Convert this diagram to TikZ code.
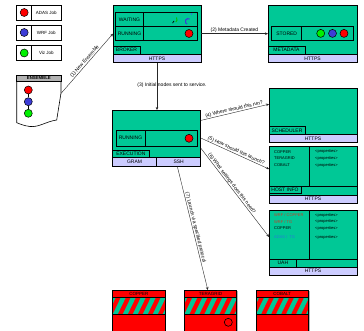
\documentclass[tikz,border=0pt]{standalone}
\usepackage{fontspec}
\setmainfont{Liberation Sans}
\usetikzlibrary{arrows.meta,calc}
\definecolor{gr}{RGB}{0,200,150}
\definecolor{lav}{RGB}{204,204,255}
\definecolor{bl}{RGB}{60,60,215}
\definecolor{rd}{RGB}{255,0,0}
\definecolor{lg}{RGB}{0,240,0}
\definecolor{wrf}{RGB}{200,60,40}
\definecolor{adas}{RGB}{40,120,220}
\newcommand\fa{\fontsize{5}{6}\selectfont}
\newcommand\fb{\fontsize{4}{5}\selectfont}
\newcommand\fc{\fontsize{4.5}{5.5}\selectfont}
\newcommand\mybox[7]{\node[#2, minimum width={(#5)-(#3)}, minimum height={(#6)-(#4)}, anchor=north west] (#1) at (#3,#4) {#7};}
\newcommand\stripebox[3]{%
  \fill[gray!60] ({#2+52.3},291) rectangle ({#2+53.6},331);
  \mybox{#1}{hdr}{#2}{290}{#2+52.3}{297.7}{\fc #3}
  \begin{scope}
    \clip (#2,297.7) rectangle ({#2+52.3},314.3);
    \fill[rd] (#2,297.7) rectangle ({#2+52.3},314.3);
    \foreach \i in {-2,...,6}{
      \fill[gr] ({#2+\i*10},314.3) -- ({#2+\i*10+5},314.3) -- ({#2+\i*10+13},297.7) -- ({#2+\i*10+8},297.7) -- cycle;}
  \end{scope}
  \draw[line width=0.6pt] (#2,297.7) rectangle ({#2+52.3},314.3);
  \draw[line width=0.6pt, fill=rd] (#2,314.3) rectangle ({#2+52.3},331);
}
\tikzset{
  box/.style={draw=black, line width=0.6pt, fill=gr, inner sep=0pt, outer sep=0pt},
  cell/.style={draw=black, line width=0.6pt, fill=gr, inner sep=0pt, outer sep=0pt, font=\fa},
  bar/.style={draw=black, line width=0.6pt, fill=lav, inner sep=0pt, outer sep=0pt, font=\fa},
  hdr/.style={draw=black, line width=0.6pt, fill=rd, inner sep=0pt, outer sep=0pt},
  leg/.style={draw=black, line width=0.6pt, fill=white, inner sep=0pt, outer sep=0pt, font=\fc},
  dot/.style={circle, draw=black, line width=0.5pt, minimum size=8pt, inner sep=0pt},
  conn/.style={draw=black!85, line width=0.4pt, -{Stealth[length=3pt,width=2.6pt]}},
  elab/.style={font=\fa, inner sep=0.5pt},
  txt/.style={inner sep=0pt, anchor=west, font=\fb},
}
\begin{document}
\begin{tikzpicture}[x=1pt,y=-1pt]
\useasboundingbox (0,0) rectangle (364,331);
% ---------- legend ----------
\fill[gray!60] (17.7,6) rectangle (62,21);
\fill[gray!60] (17.7,26) rectangle (62,41);
\fill[gray!60] (17.7,46.5) rectangle (62,61.5);
\mybox{l1}{leg}{16.7}{5}{31.7}{20}{}
\mybox{l1t}{leg}{31.7}{5}{61}{20}{ADAS Job}
\mybox{l2}{leg}{16.7}{25}{31.7}{40}{}
\mybox{l2t}{leg}{31.7}{25}{61}{40}{WRF Job}
\mybox{l3}{leg}{16.7}{45.5}{31.7}{60.5}{}
\mybox{l3t}{leg}{31.7}{45.5}{61}{60.5}{Viz Job}
\node[dot, fill=rd] (l1c) at (l1.center) {};
\node[dot, fill=bl] (l2c) at (l2.center) {};
\node[dot, fill=lg] (l3c) at (l3.center) {};
% ---------- ensemble ----------
\draw[line width=0.6pt, fill=white] (16.7,81.7) -- (61,81.7) -- (61,93) -- (56.7,120)
  .. controls (46,121.5) and (39,127.5) .. (30,126.5)
  .. controls (24,125.8) and (20,124) .. (16.7,122.7) -- cycle;
\mybox{ens}{leg, fill=gray!60}{16.7}{75}{61}{81.7}{\fontsize{4.3}{5}\selectfont\bfseries ENSEMBLE}
\node[inner sep=0pt, minimum width=44.3pt, minimum height=12pt, anchor=north east] (ensout) at (61,81.7) {};
\node[dot, fill=rd] (e1) at (28.3,90) {};
\node[dot, fill=bl] (e2) at (28.3,101.7) {};
\node[dot, fill=lg] (e3) at (28.3,113.3) {};
\draw[line width=0.5pt] (e1) -- (e2) (e2) -- (e3);
% ---------- broker ----------
\mybox{broker}{box}{113}{5}{201}{54.5}{}
\mybox{bwl}{cell}{115.7}{12.7}{143.3}{26.7}{WAITING}
\mybox{bwr}{cell}{143.3}{12.7}{197.3}{26.7}{}
\mybox{brl}{cell}{115.7}{26.7}{143.3}{40.7}{RUNNING}
\mybox{brr}{cell}{143.3}{26.7}{197.3}{40.7}{}
\mybox{blab}{cell}{113}{46}{140}{54.5}{BROKER}
\mybox{bhttps}{bar}{113}{54.5}{201}{62.7}{HTTPS}
\node[dot, fill=rd] (brc) at (189,33.5) {};
\draw[line width=0.9pt, lg!80!black] (176.5,17.5) arc[start angle=-40, end angle=60, radius=3];
\draw[line width=0.7pt, black] (174,21) arc[start angle=240, end angle=190, radius=3];
\draw[line width=1.1pt, bl] (189.5,19) arc[start angle=-60, end angle=-250, radius=2.8];
\draw[line width=0.6pt, adas] (191,15) arc[start angle=20, end angle=-20, radius=3];
% ---------- metadata ----------
\mybox{meta}{box}{268}{5}{357}{54.5}{}
\mybox{msl}{cell}{271.7}{26}{301.7}{40.7}{STORED}
\mybox{msr}{cell}{301.7}{26}{353}{40.7}{}
\mybox{mlab}{cell}{268}{46}{305}{54.5}{METADATA}
\mybox{mhttps}{bar}{268}{54.5}{357}{62.5}{HTTPS}
\node[dot, fill=lg] (m1) at (320.7,33.4) {};
\node[dot, fill=bl] (m2) at (332.5,33.4) {};
\node[dot, fill=rd] (m3) at (344,33.4) {};
% ---------- execution ----------
\mybox{exec}{box}{112.5}{110}{200.7}{157.5}{}
\mybox{erl}{cell}{116}{130}{145}{146}{RUNNING}
\mybox{err}{cell}{145}{130}{197.3}{146}{}
\mybox{elab}{cell}{112.5}{150}{149.3}{157.5}{EXECUTION}
\mybox{gram}{bar}{112.5}{157.5}{156.7}{166.7}{GRAM}
\mybox{ssh}{bar}{156.7}{157.5}{200.7}{166.7}{SSH}
\node[dot, fill=rd] (erc) at (189,138.3) {};
% ---------- scheduler ----------
\mybox{sched}{box}{269}{88}{357}{134.3}{}
\mybox{slab}{cell}{269}{126.7}{305}{134.3}{SCHEDULER}
\mybox{shttps}{bar}{269}{134.3}{357}{142.3}{HTTPS}
% ---------- host info ----------
\mybox{host}{box}{269}{146}{357}{195}{}
\mybox{hl}{cell}{269}{146}{309}{186}{}
\mybox{hr}{cell}{309}{146}{357}{186}{}
\mybox{hlab}{cell}{269}{186}{301}{193.5}{HOST INFO}
\mybox{hhttps}{bar}{269}{195}{357}{203}{HTTPS}
\node[txt] (h1) at (274,151.7) {COPPER};
\node[txt] (h2) at (274,158.3) {TERAGRID};
\node[txt] (h3) at (274,165.3) {COBALT};
\node[txt] (hp1) at (315,151.7) {<properties>};
\node[txt] (hp2) at (315,158.3) {<properties>};
\node[txt] (hp3) at (315,165.3) {<properties>};
% ---------- UAH ----------
\mybox{uah}{box}{269}{210}{357}{267.3}{}
\mybox{ul}{cell}{269}{210}{309}{259.3}{}
\mybox{ur}{cell}{309}{210}{357}{259.3}{}
\mybox{ulab}{cell}{269}{259.3}{296.7}{267.3}{UAH}
\mybox{uhttps}{bar}{269}{267.3}{357}{275}{HTTPS}
\node[txt, text=wrf] (u1) at (274,215) {WRF / COPPER};
\node[txt, text=wrf] (u2) at (274,221.7) {WRF / TG};
\node[txt] (u3) at (274,228.3) {COPPER};
\node[txt, text=adas] (u4) at (274,237.3) {ADAS /\ \ TG};
\node[txt] (up1) at (315,215) {<properties>};
\node[txt] (up2) at (315,221.7) {<properties>};
\node[txt] (up3) at (315,228.3) {<properties>};
\node[txt] (up4) at (315,237.3) {<properties>};
% ---------- resources ----------
\stripebox{copper}{112.7}{COPPER}
\stripebox{tg}{184.3}{TERAGRID}
\stripebox{cobalt}{256}{COBALT}
\node[circle, draw=black, line width=0.6pt, minimum size=8pt, inner sep=0pt] (tgc) at (228.3,322.3) {};
% ---------- connectors ----------
\draw[conn] ($(ensout.north east)!0.95!(ensout.south east)$) -- (broker.west |- brr.center)
  node[elab, midway, above, sloped] {(1) New Ensemble};
\draw[conn] (broker.east |- brr.center) -- (meta.west |- brr.center)
  node[elab, midway, above] {(2) Metadata Created};
\draw[conn] (bhttps.south) -- (bhttps.south |- exec.north);
\node[elab] (l3lab) at (172,85) {(3) Initial nodes sent to service.};
\draw[conn] ($(exec.north east)!0.22!(exec.south east)$) -- ($(sched.north west)!0.35!(sched.south west)$)
  node[elab, midway, above, sloped] {(4) Where should this run?};
\draw[conn] (exec.east |- err.center) -- ($(host.north west)!0.47!(host.south west)$)
  node[elab, midway, above, sloped] {(5) How should this launch?};
\draw[conn] ($(exec.north east)!0.8!(exec.south east)$) -- ($(uah.north west)!0.47!(uah.south west)$)
  node[elab, pos=0.42, above, sloped] {(6) What settings does this need?};
\draw[conn] ($(ssh.south west)!0.47!(ssh.south east)$) -- ($(tg.north west)!0.45!(tg.north east)$)
  node[elab, pos=0.5, above, sloped] {(7) Launch via specified protocol};
\end{tikzpicture}
\end{document}
